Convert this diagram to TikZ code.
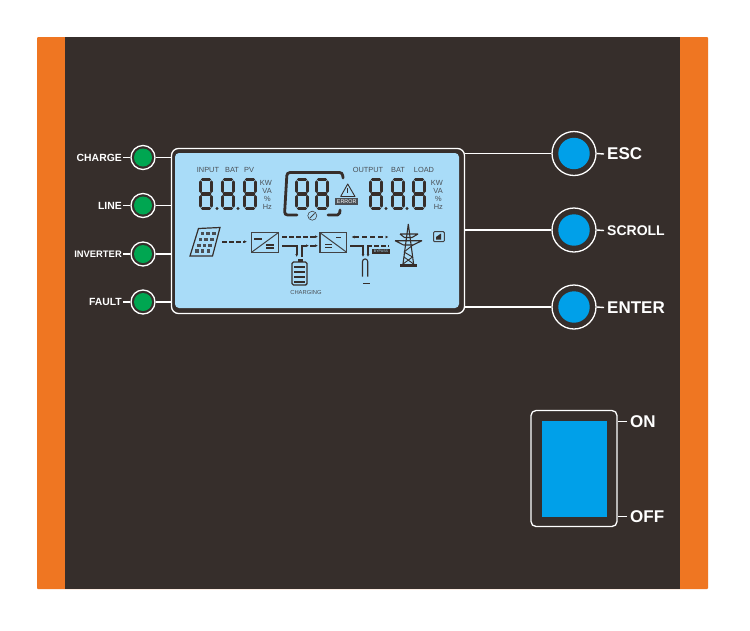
\documentclass[tikz,border=0pt]{standalone}
\usepackage{fontspec}
\setmainfont{Liberation Sans}
\usetikzlibrary{arrows.meta}
\definecolor{panelbrown}{HTML}{362E2B}
\definecolor{sideorange}{HTML}{EF7622}
\definecolor{screenblue}{HTML}{A9DCF8}
\definecolor{keyblue}{HTML}{00A0E9}
\definecolor{ledgreen}{HTML}{00A651}
\definecolor{lcdgray}{HTML}{4A4F55}
\tikzset{
  ledlabel/.style={inner sep=1pt,anchor=east,text=white,font=\fontsize{10.4}{11}\selectfont\bfseries},
  keylabel/.style={inner sep=3pt,anchor=west,text=white,font=\fontsize{17}{17}\selectfont\bfseries},
  ledring/.style={circle,draw=white,line width=1.3pt,fill=panelbrown,minimum size=24pt,inner sep=0pt},
  keyring/.style={circle,draw=white,line width=1.3pt,fill=panelbrown,minimum size=44pt,inner sep=0pt},
  wire/.style={draw=white,line width=1.4pt},
  lcdtext/.style={inner sep=0pt,text=lcdgray,font=\fontsize{7.4}{8}\selectfont},
  icon/.style={draw=lcdgray!60!panelbrown,line width=1pt},
  flow/.style={draw=panelbrown,line width=1.6pt},
  dashflow/.style={flow,dash pattern=on 4.5pt off 2.5pt},
  lcddigit/.pic={
    \draw[panelbrown,line width=3.2pt,line cap=round]
      (3.4,1.6) -- (10.6,1.6) (12.6,4) -- (12.6,13.4) (10.6,16) -- (3.4,16)
      (1.4,4) -- (1.4,13.4) (12.6,18.6) -- (12.6,28) (10.6,30.4) -- (3.4,30.4)
      (1.4,18.6) -- (1.4,28);
  }
}
\begin{document}
\begin{tikzpicture}[x=1pt,y=-1pt]
\useasboundingbox (0,0) rectangle (750,630);
\fill[white] (0,0) rectangle (750,630);
\fill[sideorange,rounded corners=1pt] (37,37) rectangle (708,589);
\fill[panelbrown] (65,37) rectangle (680,589);

\node[draw=white,line width=1.3pt,rounded corners=7pt,fill=panelbrown,minimum width=293pt,minimum height=165pt,inner sep=0pt] (frame) at (318,231) {};
\fill[screenblue,rounded corners=4pt] (175,153) -- (175,308) -- (459,308) -- (459,153) -- cycle;

\foreach \name/\txt/\ypos/\fs in {charge/CHARGE/157.5/10.4,line/LINE/205.5/10.4,inverter/INVERTER/254/9.4,fault/FAULT/302/10.4} {
  \node[ledring] (\name) at (143,\ypos) {};
  \fill[ledgreen] (\name) circle (9);
  \node[ledlabel,font=\fontsize{\fs}{11}\selectfont\bfseries] (\name label) at (123,\ypos) {\txt};
  \draw[wire] (\name label.east) -- (\name.west);
  \draw[wire] (\name.east) -- (\name.east -| frame.west);
}

\foreach \name/\txt/\ypos/\fs in {esc/ESC/153.5/17,scroll/SCROLL/230/14,enter/ENTER/307/17} {
  \node[keyring] (\name) at (574,\ypos) {};
  \fill[keyblue] (\name) circle (15.7);
  \node[keylabel,font=\fontsize{\fs}{\fs}\selectfont\bfseries] (\name label) at (604,\ypos+0.5) {\txt};
  \draw[wire] (\name.west) -- (\name.west -| frame.east);
  \draw[wire] (\name.east) -- (\name label.west);
}

\node[draw=white,line width=1.3pt,rounded corners=5pt,minimum width=86pt,minimum height=116pt,inner sep=0pt] (switch) at (574,468.5) {};
\fill[keyblue] (542,421) rectangle (607,517);
\node[keylabel] (on) at (627,421.5) {ON};
\node[keylabel] (off) at (627,516.5) {OFF};
\draw[wire] (on.west) -- (on.west -| switch.east);
\draw[wire] (off.west) -- (off.west -| switch.east);

\foreach \txt/\xpos/\ypos in {INPUT/208/170,BAT/232/170,PV/249/170,OUTPUT/368/170,BAT/398/170,LOAD/424/170} {
  \node[lcdtext] at (\xpos,\ypos) {\txt};
}
\foreach \xpos in {272,443} {
  \node[lcdtext,anchor=east] at (\xpos,183) {KW};
  \node[lcdtext,anchor=east] at (\xpos,191) {VA};
  \node[lcdtext,anchor=east] at (\xpos-1,199) {\%};
  \node[lcdtext,anchor=east] at (\xpos,207) {Hz};
}

\foreach \xpos in {199,221,243,295,315,369,391,412} {
  \pic at (\xpos,178) {lcddigit};
}
\foreach \xpos in {217,238,386,407} {
  \fill[panelbrown] (\xpos,208.5) circle (1.7);
}
\draw[panelbrown,line width=2.8pt,line cap=round,rounded corners=3pt] (297,215) -- (284.5,215) -- (287,172.5) -- (342.5,172.5) -- (343,178);
\draw[panelbrown,line width=2.8pt,line cap=round,rounded corners=2pt] (328,215) -- (339.5,215) -- (340,210);
\draw[icon,line width=0.6pt] (312.3,215.7) circle (4.5);
\draw[icon,line width=1pt] (310,218) -- (314.6,213.4);

\draw[panelbrown,line width=0.9pt,line join=round] (347.7,184) -- (355,196.5) -- (340.7,196.5) -- cycle;
\draw[panelbrown,line width=1pt] (347.7,188) -- (347.7,193);
\node[fill=lcdgray,text=white,inner sep=0pt,minimum width=23pt,minimum height=7pt,font=\fontsize{5.4}{6}\selectfont] (error) at (346.7,201.7) {ERROR};

\draw[panelbrown,line width=1.2pt] (198.5,228.5) -- (220,227.5) -- (212.5,256) -- (190,256) -- cycle;
\foreach \row in {0,1,2,3} {
  \foreach \col in {0,1,2} {
    \fill[lcdgray] ({200.5+\col*5.7-\row*1.8},{232+\row*5.8}) rectangle ++(3.6,3.4);
  }
}
\draw[dashflow,-{Latex[length=3pt,width=3pt]}] (222,241.7) -- (247,241.7);

\draw[icon,line width=1.3pt] (251.5,232.7) rectangle (278.3,252.3);
\draw[icon] (251.5,252.3) -- (278.3,232.7);
\draw[panelbrown,line width=1.3pt] (254,239) -- (262,239) (266,245) -- (274,245) (266,248) -- (274,248);
\draw[dashflow,-{Latex[length=3pt,width=3pt]}] (282,236.7) -- (318,236.7);
\draw[flow,-{Latex[length=3pt,width=3pt]}] (282,245.7) -- (296.7,245.7) -- (296.7,257);
\draw[flow,-{Latex[length=3pt,width=3pt]}] (301.7,257) -- (301.7,245.7) -- (309,245.7);
\draw[flow,-{Latex[length=3pt,width=3pt]}] (310,245.7) -- (318,245.7);

\fill[panelbrown] (297.5,259) rectangle (302.5,262);
\draw[panelbrown,line width=1.4pt,rounded corners=1.5pt] (292,262) rectangle (307,285);
\foreach \ypos in {267,272,277,282} {
  \draw[panelbrown,line width=2pt] (294,\ypos) -- (305,\ypos);
}
\node[lcdtext,font=\fontsize{5.8}{6}\selectfont] (charging) at (306,292) {CHARGING};

\draw[icon,line width=1.3pt] (320,232.7) rectangle (346.7,252.3);
\draw[icon] (320,232.7) -- (346.7,252.3);
\draw[panelbrown,line width=0.8pt] (336,237) -- (341,237);
\draw[panelbrown,line width=1.3pt] (325,244.5) -- (332,244.5) (325,247.5) -- (332,247.5);
\draw[flow,dash pattern=on 5pt off 3pt,{Latex[length=3pt,width=3pt]}-{Latex[length=3pt,width=3pt]}] (351.5,237) -- (388.5,237);
\draw[flow,-{Latex[length=3pt,width=3pt]}] (350,245.7) -- (363,245.7) -- (363,257);
\draw[flow,{Latex[length=3pt,width=3pt]}-] (368,257) -- (368,245.7) -- (372,245.7);
\draw[dashflow] (374,245.7) -- (389,245.7);
\node[fill=panelbrown,text=screenblue,inner sep=0pt,minimum width=18pt,minimum height=5.5pt,font=\fontsize{3.6}{4}\selectfont] (bypass) at (381,251.7) {BYPASS};

\draw[panelbrown,line width=1.1pt,line join=round] (362.5,276.5) -- (362.5,261.5) arc (180:360:2.6) -- (367.7,276.5);
\draw[panelbrown,line width=1.4pt] (363,283.5) -- (370,283.5);

\draw[panelbrown,line width=1.1pt,line join=round] (408.3,224) -- (403,264) (408.3,224) -- (413.6,264);
\draw[panelbrown,line width=1.1pt] (400,234) -- (418,234) (404.5,237.5) -- (412,237.5) (400,234) -- (404.5,237.5) (418,234) -- (412,237.5);
\draw[panelbrown,line width=1.1pt] (395,240.7) -- (422,240.7) (403.5,245) -- (413,245) (395,240.7) -- (403.5,245) (422,240.7) -- (413,245);
\draw[panelbrown,line width=0.9pt] (404,252) -- (413,245) (404,252) -- (412.5,257) (403,264) -- (412.5,257) (413.6,264) -- (404,257);
\fill[panelbrown] (400,264) rectangle (417,267);

\draw[icon,rounded corners=1pt] (433.5,231.7) rectangle (444.3,241.7);
\fill[panelbrown] (436,237) -- (441,233.5) -- (441,239.5) -- (436,239.5) -- cycle;
\end{tikzpicture}
\end{document}
